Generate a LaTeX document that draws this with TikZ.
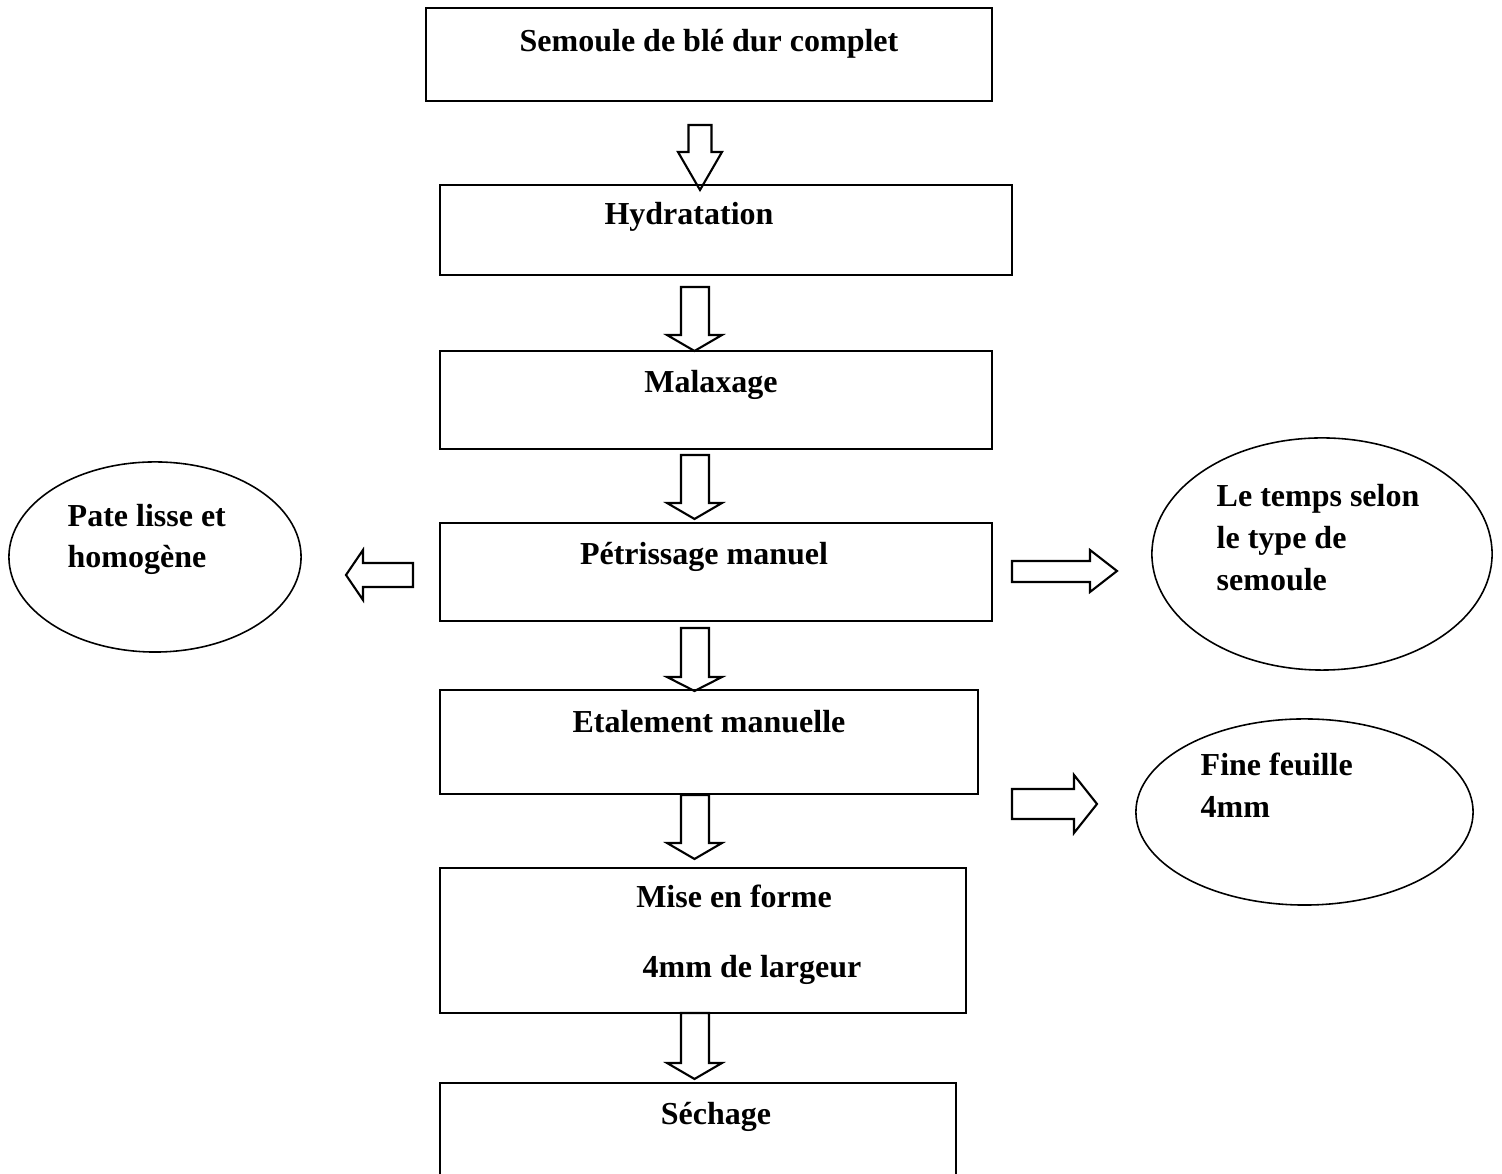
\documentclass[tikz,border=0pt]{standalone}
\usepackage{fontspec}
\setmainfont{Liberation Serif}
\usepackage{tikz}
\usetikzlibrary{shapes.geometric}

\begin{document}
\begin{tikzpicture}[x=0.01cm, y=-0.01cm,
    box/.style={draw, rectangle, line width=0.6pt},
    bulle/.style={draw, ellipse, line width=0.45pt, inner sep=0},
    txt/.style={font=\bfseries\fontsize{9.1}{12}\selectfont, inner sep=0},
    fleche/.style={draw, line width=0.6pt, line join=miter}]

		\useasboundingbox (0,0) rectangle (1502,1174);

		% Boxes of the process
		\node[box, minimum width=5.66cm, minimum height=0.93cm] (semoule) at (709,54.5) {};
		\node[box, minimum width=5.72cm, minimum height=0.90cm] (hydra) at (726,230) {};
		\node[box, minimum width=5.52cm, minimum height=0.98cm] (malax) at (716,400) {};
		\node[box, minimum width=5.52cm, minimum height=0.98cm] (petri) at (716,572) {};
		\node[box, minimum width=5.38cm, minimum height=1.04cm] (etal) at (709,742) {};
		\node[box, minimum width=5.26cm, minimum height=1.45cm] (forme) at (703,940.5) {};
		\node[box, minimum width=5.16cm, minimum height=1.17cm] (sechage) at (698,1141.5) {}; % cut at the bottom

		% Texts in the boxes
		\node[txt, anchor=base] (tsemoule) at (709,52) {Semoule de blé dur complet};
		\node[txt, anchor=base] (thydra) at (689,225) {Hydratation};
		\node[txt, anchor=base] (tmalax) at (711,393) {Malaxage};
		\node[txt, anchor=base] (tpetri) at (704,565) {Pétrissage manuel};
		\node[txt, anchor=base] (tetal) at (709,733) {Etalement manuelle};
		\node[txt, anchor=base] (tforme) at (734,908) {Mise en forme};
		\node[txt, anchor=base] (tlargeur) at (752,978) {4mm de largeur};
		\node[txt, anchor=base] (tsechage) at (716,1125) {Séchage};

		% Ellipses on the sides
		\node[bulle, minimum width=2.92cm, minimum height=1.90cm] (pate) at (155,557) {};
		\node[bulle, minimum width=3.40cm, minimum height=2.32cm] (temps) at (1322,554) {};
		\node[bulle, minimum width=3.37cm, minimum height=1.86cm] (feuille) at (1304.5,812) {};

		% Texts in the ellipses
		\node[txt, anchor=base west] (tpate1) at (67,527) {Pate lisse et};
		\node[txt, anchor=base west] (tpate2) at (67,568) {homogène};
		\node[txt, anchor=base west] (ttemps1) at (1216,507) {Le temps selon};
		\node[txt, anchor=base west] (ttemps2) at (1216,549) {le type de};
		\node[txt, anchor=base west] (ttemps3) at (1216,591) {semoule};
		\node[txt, anchor=base west] (tfeuille1) at (1200,776) {Fine feuille};
		\node[txt, anchor=base west] (tfeuille2) at (1200,818) {4mm};

		% Down arrows between the boxes
		\draw[fleche] (688.5,125) -- (711.5,125) -- (711.5,152) -- (722,152) -- (700,190) -- (678,152) -- (688.5,152) -- cycle;
		\draw[fleche] (681,287) -- (709,287) -- (709,335) -- (722,335) -- (694.5,351) -- (667,335) -- (681,335) -- cycle;
		\draw[fleche] (681,455) -- (709,455) -- (709,503) -- (722,503) -- (694.5,519) -- (667,503) -- (681,503) -- cycle;
		\draw[fleche] (681,628) -- (709,628) -- (709,677) -- (722,677) -- (694.5,691) -- (667,677) -- (681,677) -- cycle;
		\draw[fleche] (681,795) -- (709,795) -- (709,843) -- (722,843) -- (694.5,859) -- (667,843) -- (681,843) -- cycle;
		\draw[fleche] (681,1013) -- (709,1013) -- (709,1063) -- (722,1063) -- (694.5,1079) -- (667,1063) -- (681,1063) -- cycle;

		% Side arrows
		\draw[fleche] (413,563) -- (413,587) -- (363,587) -- (363,600) -- (346,575) -- (363,550) -- (363,563) -- cycle;
		\draw[fleche] (1012,561) -- (1090,561) -- (1090,550) -- (1117,571) -- (1090,592) -- (1090,582) -- (1012,582) -- cycle;
		\draw[fleche] (1012,789) -- (1074,789) -- (1074,775) -- (1097,804) -- (1074,833) -- (1074,819) -- (1012,819) -- cycle;
	\end{tikzpicture}
\end{document}
